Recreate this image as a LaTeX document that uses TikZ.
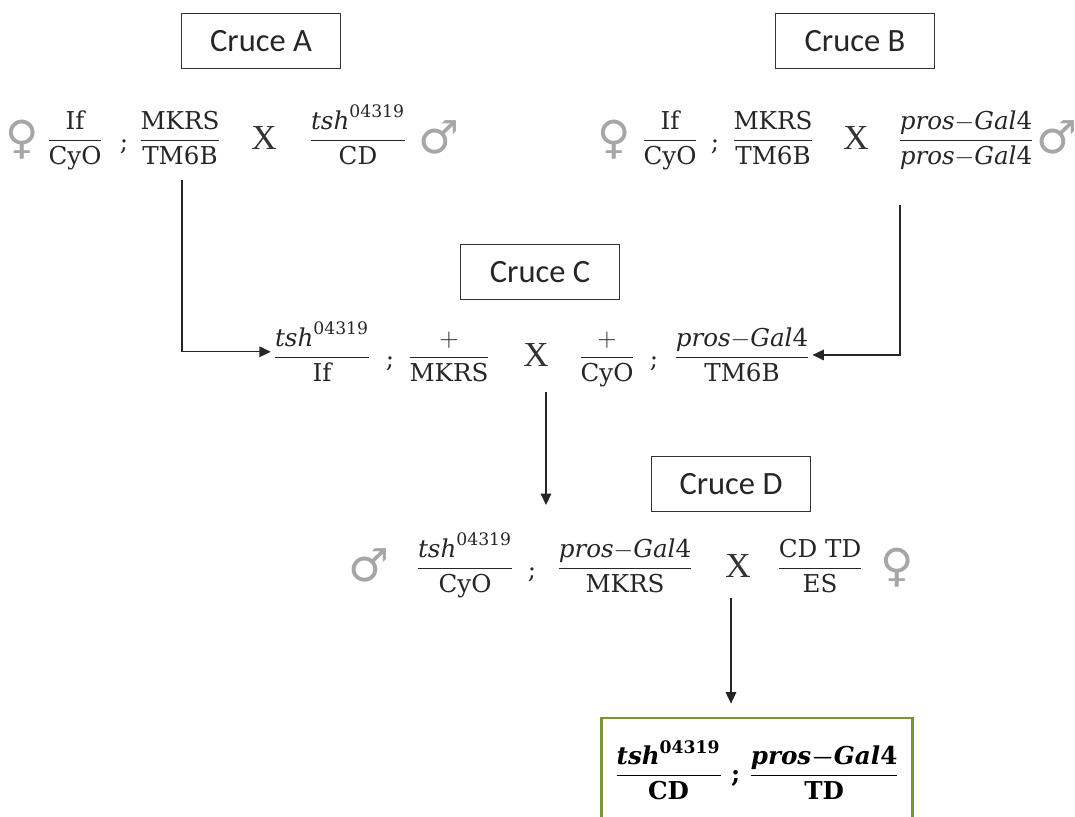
\documentclass[tikz,border=0pt]{standalone}
\usepackage{amsmath}
\usepackage{fontspec}
\setmainfont{DejaVu Serif}
\newfontfamily\cajafont{Carlito}
\newfontfamily\simbfont{DejaVu Sans}
\newfontfamily\cruzfont{Liberation Serif}
\usetikzlibrary{arrows.meta,positioning}
\definecolor{verdeoliva}{RGB}{119,147,60}
\tikzstyle{cruce} = [rectangle, draw=black!80, line width=0.85pt, minimum width=3.18cm, minimum height=1.1cm, font=\cajafont\fontsize{18.5}{22}\selectfont, text=black!85]
\tikzstyle{genotipo} = [anchor=base, inner sep=1pt, font=\fontsize{14}{17}\selectfont, text=black!85]
\tikzstyle{cruz} = [font=\cruzfont\fontsize{20}{24}\selectfont, text=black!80]
\tikzstyle{sexo} = [font=\simbfont\fontsize{26}{30}\selectfont, text=black!35]
\tikzstyle{flecha} = [-{Triangle[length=6.5pt,width=6pt]}, line width=0.8pt, black!85]
\tikzstyle{resultado} = [rectangle, draw=verdeoliva, line width=1.6pt, minimum width=6.22cm, minimum height=2.08cm, font=\bfseries\fontsize{14}{17}\selectfont]
\newcommand{\tshalelo}{\textit{tsh}^{\text{04319}}}
\newcommand{\prosgal}{\textit{pros}{-}\textit{Gal}\text{4}}

\begin{document}
\begin{tikzpicture}[x=0.02cm, y=-0.02cm]
\useasboundingbox (0,0) rectangle (1075,816);
\clip (0,0) rectangle (1075,816);

% Cajas de los cruces
\node[cruce] (cruceA) at (261,41) {Cruce A};
\node[cruce] (cruceB) at (855,41) {Cruce B};
\node[cruce] (cruceC) at (540,272) {Cruce C};
\node[cruce] (cruceD) at (731,484) {Cruce D};

% Cruce A
\node[sexo] (a-hembra) at (22,140) {♀};
\node[genotipo] (a-g1) at (75,147) {$\dfrac{\text{If}}{\text{CyO}}$};
\node[genotipo] (a-pc1) at (124,150) {;};
\node[genotipo] (a-g2) at (180,147) {$\dfrac{\text{MKRS}}{\text{TM6B}}$};
\node[cruz] (a-x) at (264,138) {X};
\node[genotipo] (a-g3) at (358,147) {$\dfrac{\tshalelo}{\text{CD}}$};
\node[sexo] (a-macho) at (439,137) {♂};

% Cruce B
\node[sexo] (b-hembra) at (614,140) {♀};
\node[genotipo] (b-g1) at (670,147) {$\dfrac{\text{If}}{\text{CyO}}$};
\node[genotipo] (b-pc1) at (715,150) {;};
\node[genotipo] (b-g2) at (773,147) {$\dfrac{\text{MKRS}}{\text{TM6B}}$};
\node[cruz] (b-x) at (856,138) {X};
\node[genotipo] (b-g3) at (966,147) {$\dfrac{\prosgal}{\prosgal}$};
\node[sexo] (b-macho) at (1057,137) {♂};

% Cruce C
\node[genotipo] (c-g1) at (322,364) {$\dfrac{\tshalelo}{\text{If}}$};
\node[genotipo] (c-pc1) at (390,367) {;};
\node[genotipo] (c-g2) at (449,364) {$\dfrac{+}{\text{MKRS}}$};
\node[cruz] (c-x) at (536,355) {X};
\node[genotipo] (c-g3) at (607,364) {$\dfrac{+}{\text{CyO}}$};
\node[genotipo] (c-pc2) at (654,367) {;};
\node[genotipo] (c-g4) at (742,364) {$\dfrac{\prosgal}{\text{TM6B}}$};

% Cruce D
\node[sexo] (d-macho) at (369,565) {♂};
\node[genotipo] (d-g1) at (465,575) {$\dfrac{\tshalelo}{\text{CyO}}$};
\node[genotipo] (d-pc1) at (532,578) {;};
\node[genotipo] (d-g2) at (625,575) {$\dfrac{\prosgal}{\text{MKRS}}$};
\node[cruz] (d-x) at (738,566) {X};
\node[genotipo] (d-g3) at (820,575) {$\dfrac{\text{CD TD}}{\text{ES}}$};
\node[sexo] (d-hembra) at (897,568) {♀};

% Resultado
\node[resultado] (res) at (757,770) {$\dfrac{\tshalelo}{\textbf{CD}}$ ; $\dfrac{\boldsymbol{\prosgal}}{\textbf{TD}}$};

% Flechas
\coordinate (a-baja) at (182,180);
\coordinate (b-baja) at (900,205);
\coordinate (c-baja) at (546,392);
\coordinate (d-sube) at (546,505);
\coordinate (d-baja) at (731,598);
\draw[flecha] (a-baja) |- (c-g1.west);
\draw[flecha] (b-baja) |- (c-g4.east);
\draw[flecha] (c-baja) -- (d-sube);
\draw[flecha, shorten >=0.26cm] (d-baja) -- (d-baja |- res.north);

\end{tikzpicture}
\end{document}
